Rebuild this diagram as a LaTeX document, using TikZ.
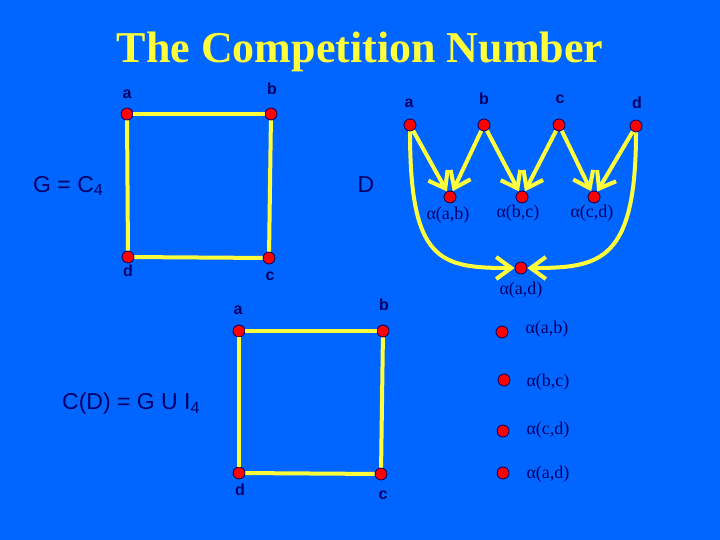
\documentclass[tikz,border=0pt]{standalone}
\usepackage{fontspec}
\setmainfont{Liberation Serif}
\newfontfamily\arialfont{Liberation Sans}
\usetikzlibrary{arrows.meta}
\definecolor{bgblue}{RGB}{0,102,255}
\definecolor{navy}{RGB}{0,0,102}
\definecolor{ylw}{RGB}{255,255,60}
\definecolor{dotred}{RGB}{255,0,0}
\begin{document}
\begin{tikzpicture}[x=1pt,y=1pt,
  dot/.style={circle,minimum size=12pt,inner sep=0pt,fill=dotred,draw=navy,line width=0.8pt},
  lbl/.style={text=navy,font=\arialfont\bfseries\fontsize{16}{18}\selectfont,inner sep=0pt},
  alab/.style={text=navy,font=\fontsize{18}{20}\selectfont,inner sep=0pt},
  big/.style={text=navy,font=\arialfont\fontsize{23}{26}\selectfont,inner sep=0pt},
  edge/.style={draw=ylw,line width=4pt},
  arc/.style={draw=ylw,line width=4pt,-{Straight Barb[length=15pt,width=22pt]}}]
\useasboundingbox (0,0) rectangle (720,-540);
\fill[bgblue] (0,0) rectangle (720,-540);
% title
\node[text=ylw,font=\bfseries\fontsize{44}{48}\selectfont,inner sep=0pt] (title) at (360,-52) {The Competition Number};
% G = C4 square
\node[dot] (ga) at (127,-114) {};
\node[dot] (gb) at (271,-114) {};
\node[dot] (gc) at (269,-258) {};
\node[dot] (gd) at (128,-257) {};
\draw[edge] (ga) -- (gb);
\draw[edge] (gb) -- (gc);
\draw[edge] (gc) -- (gd);
\draw[edge] (gd) -- (ga);
\node[lbl] (gla) at (127,-94) {a};
\node[lbl] (glb) at (272,-89) {b};
\node[lbl] (glc) at (270,-276) {c};
\node[lbl] (gld) at (128,-271) {d};
\node[big,anchor=west] (gtxt) at (33,-186) {G = C\textsubscript{4}};
\node[big] (dtxt) at (366,-185) {D};
% digraph D
\node[dot] (da) at (410,-125) {};
\node[dot] (db) at (484,-125) {};
\node[dot] (dc) at (559,-125) {};
\node[dot] (dd) at (636,-126) {};
\node[dot] (ab) at (450,-197) {};
\node[dot] (bc) at (522,-197) {};
\node[dot] (cd) at (594,-197) {};
\node[dot] (ad) at (521,-268) {};
\node[lbl] (dla) at (409,-103) {a};
\node[lbl] (dlb) at (484,-99) {b};
\node[lbl] (dlc) at (560,-99) {c};
\node[lbl] (dld) at (637,-103) {d};
\node[alab] (lab) at (448,-215) {α(a,b)};
\node[alab] (lbc) at (518,-213) {α(b,c)};
\node[alab] (lcd) at (592,-213) {α(c,d)};
\node[alab] (lad) at (521,-290) {α(a,d)};
\draw[arc] (da) -- (ab);
\draw[arc] (db) -- (ab);
\draw[arc] (db) -- (bc);
\draw[arc] (dc) -- (bc);
\draw[arc] (dc) -- (cd);
\draw[arc] (dd) -- (cd);
\draw[arc] (da) .. controls (410,-262) and (440,-268) .. (ad);
\draw[arc] (dd) .. controls (636,-262) and (600,-268) .. (ad);
% C(D) square
\node[dot] (ca) at (239,-331) {};
\node[dot] (cb) at (383,-331) {};
\node[dot] (cc) at (381,-474) {};
\node[dot] (cdd) at (239,-473) {};
\draw[edge] (ca) -- (cb);
\draw[edge] (cb) -- (cc);
\draw[edge] (cc) -- (cdd);
\draw[edge] (cdd) -- (ca);
\node[lbl] (cla) at (238,-310) {a};
\node[lbl] (clb) at (384,-305) {b};
\node[lbl] (clc) at (383,-495) {c};
\node[lbl] (cld) at (240,-490) {d};
\node[big,anchor=west] (ctxt) at (62,-404) {C(D) = G U I\textsubscript{4}};
% isolated vertices
\node[dot] (i1) at (502,-332) {};
\node[dot] (i2) at (504,-380) {};
\node[dot] (i3) at (503,-431) {};
\node[dot] (i4) at (503,-473) {};
\node[alab] (il1) at (547,-329) {α(a,b)};
\node[alab] (il2) at (548,-382) {α(b,c)};
\node[alab] (il3) at (548,-430) {α(c,d)};
\node[alab] (il4) at (548,-474) {α(a,d)};
\end{tikzpicture}
\end{document}
